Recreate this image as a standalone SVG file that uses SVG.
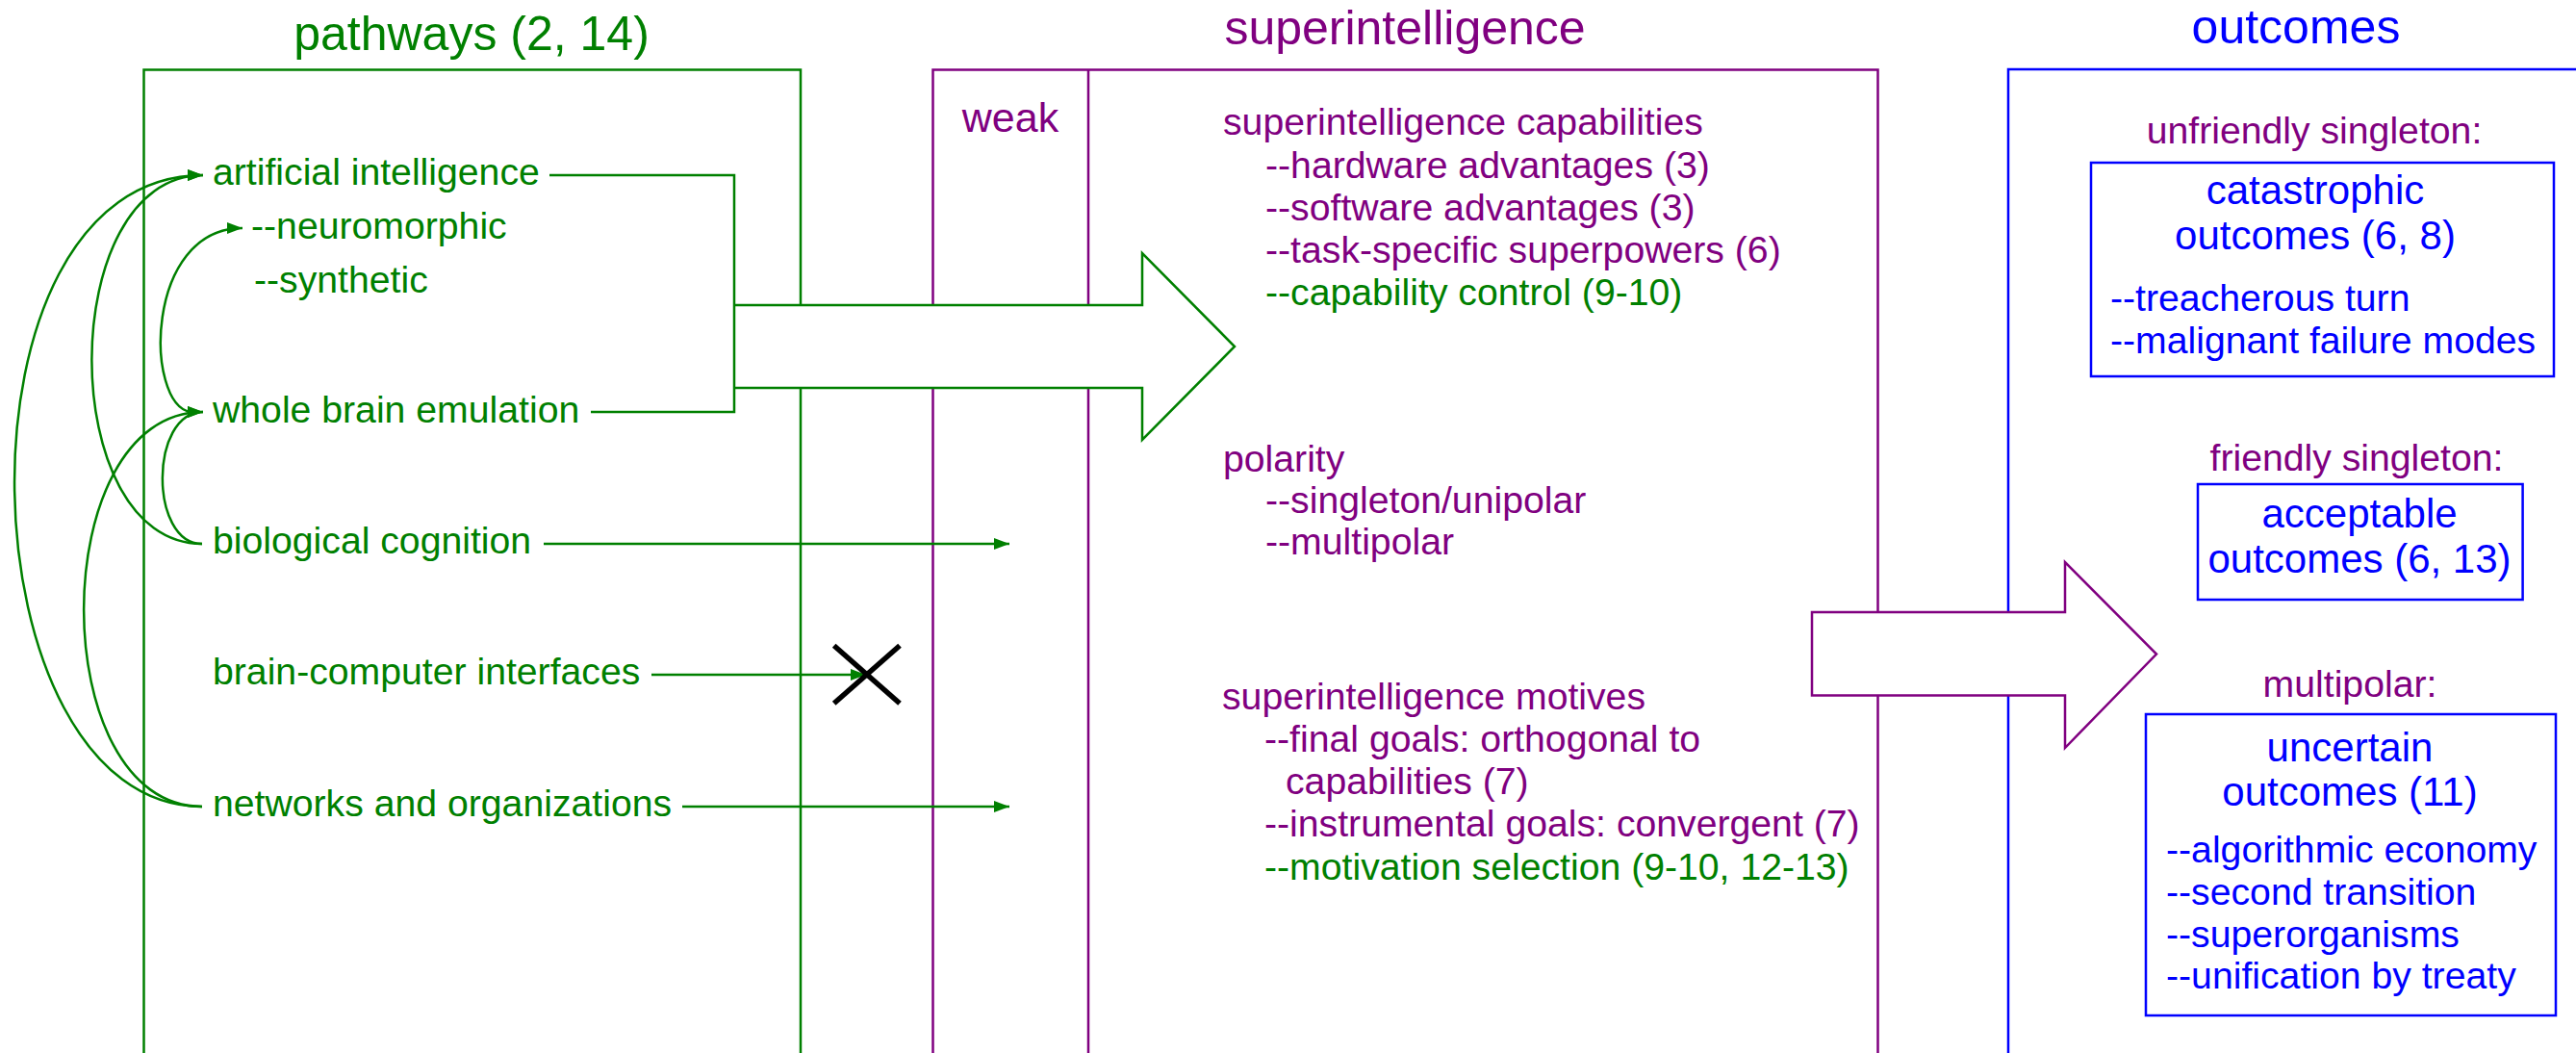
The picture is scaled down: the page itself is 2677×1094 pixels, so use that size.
<svg xmlns="http://www.w3.org/2000/svg" width="2677" height="1094" viewBox="0 0 2677 1094">
<defs>
<style>
text{font-family:"Liberation Sans",Arial,Helvetica,sans-serif}
.title{font-size:50px;text-anchor:middle}
.t{font-size:39.2px}
.h{font-size:42px;text-anchor:middle}
.c{text-anchor:middle}
.g{fill:#008000}
.p{fill:#800080}
.b{fill:#0000ff}
.box{fill:none;stroke-width:2.5}
.gs{stroke:#008000}
.ps{stroke:#800080}
.bs{stroke:#0000ff}
.conn{fill:none;stroke:#008000;stroke-width:2.5}
.arr{marker-end:url(#ah)}
.block{fill:#fff;stroke-width:2.5}
.x{stroke:#000;stroke-width:5.5}
</style>
<marker id="ah" viewBox="0 0 16 12" refX="16" refY="6" markerWidth="16" markerHeight="12" markerUnits="userSpaceOnUse" orient="auto"><path d="M0,0 L16,6 L0,12 Z" fill="#008000"/></marker>
</defs>
<rect width="2677" height="1094" fill="#fff"/>

<g id="pathways">
<text class="title g" x="490" y="52">pathways (2, 14)</text>
<rect class="box gs" x="149.5" y="72.5" width="682.5" height="1100"/>
</g>
<g id="superintelligence">
<text class="title p" x="1460" y="46">superintelligence</text>
<rect class="box ps" x="969.5" y="72.5" width="982" height="1100"/>
<line class="box ps" x1="1131" y1="72.5" x2="1131" y2="1100"/>
</g>
<g id="outcomes">
<text class="title b" x="2386" y="45">outcomes</text>
<rect class="box bs" x="2087" y="72" width="700" height="1100"/>
</g>

<g id="artificial-intelligence"><text class="t g" x="221" y="192">artificial intelligence</text></g>
<g id="neuromorphic"><text class="t g" x="261" y="248">--neuromorphic</text></g>
<g id="synthetic"><text class="t g" x="264" y="304">--synthetic</text></g>
<g id="whole-brain-emulation"><text class="t g" x="221" y="438.5">whole brain emulation</text></g>
<g id="biological-cognition"><text class="t g" x="221" y="575">biological cognition</text></g>
<g id="brain-computer-interfaces"><text class="t g" x="221" y="711">brain-computer interfaces</text></g>
<g id="networks-organizations"><text class="t g" x="221" y="848">networks and organizations</text></g>

<g id="weak"><text class="p" style="font-size:43px;text-anchor:middle" x="1050" y="136.6">weak</text></g>

<g id="si-capabilities">
<text class="t p" x="1271" y="140">superintelligence capabilities</text>
<text class="t p" x="1315" y="185">--hardware advantages (3)</text>
<text class="t p" x="1315" y="229">--software advantages (3)</text>
<text class="t p" x="1315" y="273">--task-specific superpowers (6)</text>
<text class="t g" x="1315" y="317">--capability control (9-10)</text>
</g>
<g id="polarity">
<text class="t p" x="1271" y="489.5">polarity</text>
<text class="t p" x="1315" y="533">--singleton/unipolar</text>
<text class="t p" x="1315" y="576">--multipolar</text>
</g>
<g id="si-motives">
<text class="t p" x="1270" y="736.5">superintelligence motives</text>
<text class="t p" x="1314" y="781">--final goals: orthogonal to</text>
<text class="t p" x="1336" y="825">capabilities (7)</text>
<text class="t p" x="1314" y="869">--instrumental goals: convergent (7)</text>
<text class="t g" x="1314" y="914">--motivation selection (9-10, 12-13)</text>
</g>

<g id="unfriendly-singleton">
<text class="t p c" x="2405" y="149">unfriendly singleton:</text>
<rect class="box bs" x="2173" y="169" width="481" height="222"/>
<text class="h b" x="2406" y="212">catastrophic</text>
<text class="h b" x="2406" y="259">outcomes (6, 8)</text>
<text class="t b" x="2193" y="323">--treacherous turn</text>
<text class="t b" x="2193" y="367">--malignant failure modes</text>
</g>
<g id="friendly-singleton">
<text class="t p c" x="2449" y="489">friendly singleton:</text>
<rect class="box bs" x="2284" y="503" width="337.6" height="120"/>
<text class="h b" x="2452" y="547.5">acceptable</text>
<text class="h b" x="2452" y="595">outcomes (6, 13)</text>
</g>
<g id="multipolar">
<text class="t p c" x="2442" y="724">multipolar:</text>
<rect class="box bs" x="2230" y="742" width="426" height="313"/>
<text class="h b" x="2442" y="791">uncertain</text>
<text class="h b" x="2442" y="836.5">outcomes (11)</text>
<text class="t b" x="2251" y="895.5">--algorithmic economy</text>
<text class="t b" x="2251" y="940">--second transition</text>
<text class="t b" x="2251" y="984">--superorganisms</text>
<text class="t b" x="2251" y="1027">--unification by treaty</text>
</g>

<g id="connectors">
<path class="block gs" d="M763,317 H1187 V263 L1283,360 L1187,457 V403 H763"/>
<path class="block ps" d="M1883,636 H2146 V584 L2241,679.5 L2146,777 V722.5 H1883 Z"/>
<path class="conn" d="M571,182 H763 V428 H614"/>
<path class="conn arr" d="M565,565 H1049"/>
<path class="conn arr" d="M677,701 H900"/>
<path class="conn arr" d="M709,838 H1049"/>
<path class="conn arr" d="M210,838 C-40,838 -60,182 211,182"/>
<path class="conn arr" d="M210,838 C46,838 46,428 211,428"/>
<path class="conn arr" d="M210,565 C57,565 57,182 211,182"/>
<path class="conn arr" d="M210,565 C155,565 155,428 211,428"/>
<path class="conn arr" d="M198,428 C150,420 150,237 252,237"/>
<line class="x" x1="866.7" y1="670.7" x2="935" y2="730.7"/>
<line class="x" x1="935" y1="670.7" x2="866.7" y2="730.7"/>
</g>
</svg>
